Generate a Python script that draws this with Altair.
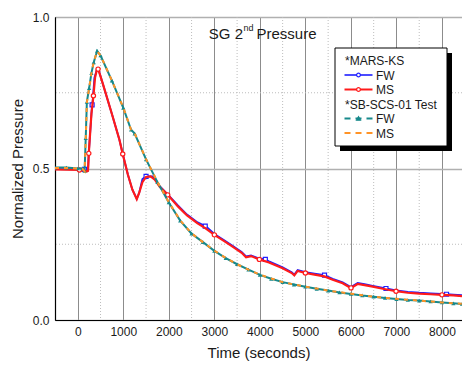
import altair as alt
import pandas as pd

# ---------------- data ----------------
# MARS-KS, MS (red)
mars_ms_t = [-500, 37, 150, 200, 225, 242, 300, 344, 380, 420, 446, 470, 550, 750, 915, 988,
             1100, 1200, 1296, 1350, 1420, 1500, 1600, 1700, 1800, 1976, 2200, 2400, 2632,
             2800, 3001, 3200, 3400, 3600, 3697, 3806, 3989, 4200, 4500, 4700, 4757, 4830,
             5000, 5200, 5416, 5600, 5819, 5950, 6002, 6148, 6300, 6478, 6700, 6991, 7250,
             7502, 7750, 8000, 8250, 8440]
mars_ms_y = [0.497, 0.495, 0.494, 0.490, 0.492, 0.550, 0.680, 0.740, 0.800, 0.826, 0.828,
             0.818, 0.780, 0.680, 0.595, 0.548, 0.480, 0.430, 0.399, 0.420, 0.455, 0.472,
             0.474, 0.462, 0.440, 0.413, 0.375, 0.345, 0.319, 0.303, 0.281, 0.262, 0.242,
             0.222, 0.207, 0.211, 0.200, 0.190, 0.171, 0.155, 0.147, 0.162, 0.155, 0.150,
             0.144, 0.133, 0.121, 0.110, 0.106, 0.119, 0.115, 0.110, 0.103, 0.095, 0.090,
             0.087, 0.085, 0.083, 0.081, 0.079]
mars_ms_marks = [37, 242, 344, 446, 988, 1976, 3001, 3989, 5000, 6002, 6991, 8000]

# MARS-KS, FW (blue)
mars_fw_t = [-500, 0, 147, 200, 225, 242, 300, 315, 329, 366, 420, 439, 470, 550, 750, 915,
             988, 1100, 1200, 1296, 1350, 1420, 1500, 1640, 1700, 1800, 1976, 2200, 2400,
             2632, 2800, 2850, 3001, 3200, 3400, 3600, 3697, 3806, 3989, 4120, 4200, 4500,
             4700, 4757, 4830, 5000, 5200, 5420, 5600, 5819, 5950, 6002, 6148, 6300, 6478,
             6770, 6990, 7250, 7502, 7750, 8100, 8250, 8440]
mars_fw_y = [0.498, 0.497, 0.497, 0.492, 0.493, 0.550, 0.680, 0.710, 0.725, 0.800, 0.826,
             0.829, 0.820, 0.780, 0.680, 0.595, 0.548, 0.480, 0.430, 0.400, 0.420, 0.465,
             0.474, 0.474, 0.463, 0.442, 0.415, 0.378, 0.348, 0.322, 0.310, 0.305, 0.284,
             0.265, 0.245, 0.225, 0.210, 0.213, 0.203, 0.200, 0.194, 0.174, 0.158, 0.150,
             0.165, 0.158, 0.153, 0.148, 0.136, 0.124, 0.113, 0.109, 0.122, 0.118, 0.113,
             0.104, 0.098, 0.093, 0.090, 0.088, 0.085, 0.084, 0.082]
mars_fw_marks = [147, 315, 1500, 2800, 4120, 5420, 6770, 8100]

# SB-SCS-01 Test, FW (teal) and MS (orange)
test_t = [-500, -250, 0, 100, 150, 175, 200, 250, 300, 350, 425, 500, 750, 1000, 1171, 1250,
          1500, 1750, 2000, 2250, 2500, 2750, 3000, 3250, 3500, 3750, 4000, 4250, 4500, 4750,
          5000, 5250, 5500, 5750, 6000, 6250, 6500, 6750, 7000, 7250, 7500, 7750, 8000, 8250,
          8440]
test_fw_y = [0.503, 0.503, 0.500, 0.500, 0.492, 0.600, 0.720, 0.765, 0.815, 0.850, 0.888,
             0.873, 0.790, 0.700, 0.628, 0.615, 0.530, 0.455, 0.388, 0.328, 0.285, 0.257,
             0.228, 0.204, 0.184, 0.166, 0.149, 0.136, 0.125, 0.117, 0.110, 0.103, 0.097,
             0.091, 0.086, 0.081, 0.077, 0.073, 0.069, 0.066, 0.064, 0.061, 0.058, 0.055,
             0.053]
test_ms_y = [0.502, 0.502, 0.500, 0.499, 0.491, 0.598, 0.718, 0.765, 0.815, 0.851, 0.887,
             0.873, 0.790, 0.701, 0.628, 0.616, 0.531, 0.456, 0.389, 0.329, 0.286, 0.257,
             0.229, 0.205, 0.184, 0.166, 0.150, 0.137, 0.125, 0.117, 0.110, 0.104, 0.097,
             0.092, 0.087, 0.082, 0.077, 0.073, 0.070, 0.067, 0.064, 0.061, 0.058, 0.055,
             0.054]

x_ticks = [0, 1000, 2000, 3000, 4000, 5000, 6000, 7000, 8000]
x_minor = [500, 1500, 2500, 3500, 4500, 5500, 6500, 7500]
y_ticks = [0.0, 0.5, 1.0]
y_minor = [0.25, 0.75]

FONT = "Liberation Sans"
BLUE = "#1f1fff"
RED = "#ff1a1a"
TEAL = "#17898b"
ORANGE = "#ff9326"

xs = alt.Scale(domain=[-500, 8440], nice=False, zero=False)
ys = alt.Scale(domain=[0, 1.0], nice=False)

mars_ms = pd.DataFrame({"t": mars_ms_t, "p": mars_ms_y})
mars_fw = pd.DataFrame({"t": mars_fw_t, "p": mars_fw_y})
test_fw = pd.DataFrame({"t": test_t, "p": test_fw_y})
test_ms = pd.DataFrame({"t": test_t, "p": test_ms_y})

X = alt.X("t:Q", scale=xs,
          axis=alt.Axis(values=x_ticks, title="Time (seconds)", format="d",
                        grid=True, gridColor="#8c8c8c", gridWidth=1, ticks=False,
                        labelPadding=6, titlePadding=8))
Y = alt.Y("p:Q", scale=ys,
          axis=alt.Axis(values=y_ticks, title="Normalized Pressure", format=".1f",
                        grid=True, gridColor="#b0b0b0", gridWidth=1.5, ticks=False,
                        labelPadding=6, titlePadding=7))

# minor dotted grid
gx = alt.Chart(pd.DataFrame({"t": x_minor})).mark_rule(
    color="#bdbdbd", strokeDash=[1, 2], strokeWidth=1).encode(x=alt.X("t:Q", scale=xs))
gy = alt.Chart(pd.DataFrame({"p": y_minor})).mark_rule(
    color="#bdbdbd", strokeDash=[1, 2], strokeWidth=1).encode(y=alt.Y("p:Q", scale=ys))

base_axes = alt.Chart(mars_fw).mark_line(opacity=0).encode(x=X, y=Y)

fw_line = alt.Chart(mars_fw).mark_line(color=BLUE, strokeWidth=1.8, clip=True).encode(
    x=alt.X("t:Q", scale=xs), y=alt.Y("p:Q", scale=ys))
fw_pts = alt.Chart(mars_fw).transform_filter(
    alt.FieldOneOfPredicate(field="t", oneOf=mars_fw_marks)).mark_point(
    shape="square", size=16, filled=True, fill="white", stroke=BLUE, strokeWidth=1.2,
    opacity=1, clip=True).encode(x=alt.X("t:Q", scale=xs), y=alt.Y("p:Q", scale=ys))

ms_line = alt.Chart(mars_ms).mark_line(color=RED, strokeWidth=2.2, clip=True).encode(
    x=alt.X("t:Q", scale=xs), y=alt.Y("p:Q", scale=ys))
ms_pts = alt.Chart(mars_ms).transform_filter(
    alt.FieldOneOfPredicate(field="t", oneOf=mars_ms_marks)).mark_point(
    shape="circle", size=18, filled=True, fill="white", stroke=RED, strokeWidth=1.2,
    opacity=1, clip=True).encode(x=alt.X("t:Q", scale=xs), y=alt.Y("p:Q", scale=ys))

tfw_line = alt.Chart(test_fw).mark_line(color=TEAL, strokeWidth=2, clip=True).encode(
    x=alt.X("t:Q", scale=xs), y=alt.Y("p:Q", scale=ys))
tfw_pts = alt.Chart(test_fw).mark_point(
    shape="triangle-up", size=18, filled=True, color=TEAL, opacity=1, clip=True).encode(
    x=alt.X("t:Q", scale=xs), y=alt.Y("p:Q", scale=ys))
tms_line = alt.Chart(test_ms).mark_line(color=ORANGE, strokeWidth=2, strokeDash=[4, 5],
                                        clip=True).encode(
    x=alt.X("t:Q", scale=xs), y=alt.Y("p:Q", scale=ys))

# title with superscript
def txt(s, x, y, size, align="left", baseline="alphabetic"):
    return alt.Chart(pd.DataFrame({"s": [s]})).mark_text(
        text=s, font=FONT, fontSize=size, align=align, baseline=baseline,
        color="#1a1a1a").encode(x=alt.value(x), y=alt.value(y))

title_parts = [
    txt("SG 2", 188, 22, 15, align="right"),
    txt("nd", 188.5, 14, 9),
    txt("Pressure", 201.5, 22, 15),
]

# legend box
def rect(x1, x2, y1, y2, fill, stroke=None):
    kw = dict(fill=fill)
    if stroke:
        kw.update(stroke=stroke, strokeWidth=1)
    return alt.Chart(pd.DataFrame({"a": [0]})).mark_rect(**kw).encode(
        x=alt.value(x1), x2=alt.value(x2), y=alt.value(y1), y2=alt.value(y2))

def seg(x1, x2, y, color, dash=None, width=2):
    kw = dict(color=color, strokeWidth=width)
    if dash:
        kw.update(strokeDash=dash)
    return alt.Chart(pd.DataFrame({"a": [0]})).mark_rule(**kw).encode(
        x=alt.value(x1), x2=alt.value(x2), y=alt.value(y))

def pt(x, y, shape, fill, stroke, size=16):
    return alt.Chart(pd.DataFrame({"a": [0]})).mark_point(
        shape=shape, size=size, filled=True, fill=fill, stroke=stroke, strokeWidth=1.2,
        opacity=1).encode(x=alt.value(x), y=alt.value(y))

lx1, lx2 = 289.5, 317.5
tx = 321
legend = [
    rect(285, 397, 36, 134, "black"),
    rect(280, 392, 31, 129, "white", "black"),
    txt("*MARS-KS", 290, 44, 12, baseline="middle"),
    seg(lx1, lx2, 58, BLUE, width=1.6),
    pt(303.5, 58, "circle", "white", BLUE, 14),
    txt("FW", tx, 58.5, 12, baseline="middle"),
    seg(lx1, lx2, 72.5, RED),
    pt(303.5, 72.5, "circle", "white", RED, 14),
    txt("MS", tx, 73, 12, baseline="middle"),
    txt("*SB-SCS-01 Test", 290, 87.5, 12, baseline="middle"),
    seg(lx1, lx2, 101.5, TEAL, dash=[6, 5]),
    pt(303.5, 101.5, "triangle-up", TEAL, TEAL, 16),
    txt("FW", tx, 102, 12, baseline="middle"),
    seg(lx1, lx2, 116, ORANGE, dash=[6, 5]),
    txt("MS", tx, 116.5, 12, baseline="middle"),
]

chart = alt.layer(
    base_axes, gx, gy, fw_line, fw_pts, ms_line, ms_pts, tfw_line, tfw_pts, tms_line,
    *title_parts, *legend
).properties(
    width=407, height=303,
    autosize=alt.AutoSizeParams(type="none"),
    padding={"left": 55, "top": 17, "right": 0, "bottom": 45},
).configure_view(
    stroke="black", strokeWidth=1
).configure_axis(
    labelFont=FONT, titleFont=FONT, labelFontSize=12, titleFontSize=15,
    titleFontWeight="normal", labelColor="#1a1a1a", titleColor="#1a1a1a",
    domainColor="black", domainWidth=1.2
)

chart.save("out.html", embed_options={"renderer": "svg", "actions": False})
